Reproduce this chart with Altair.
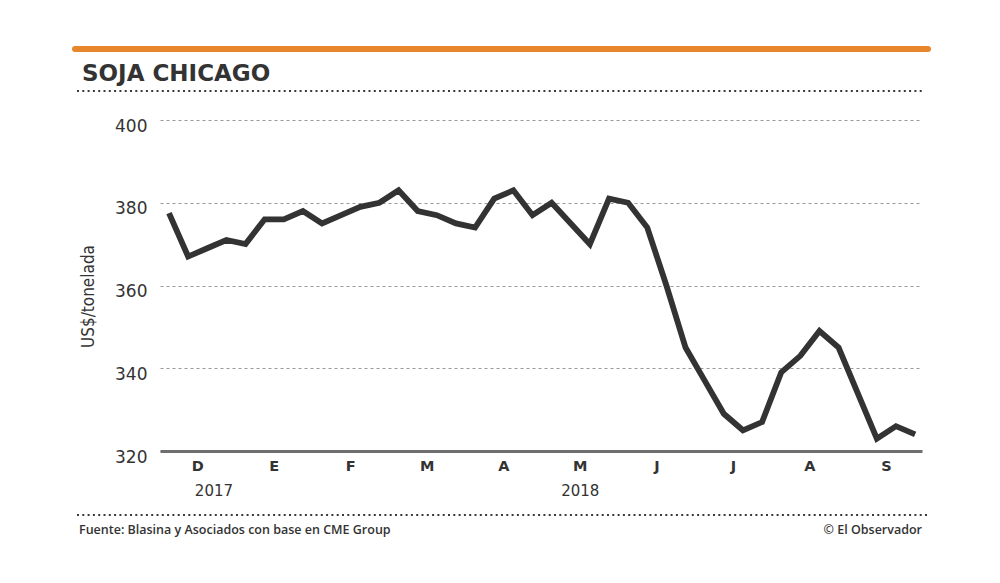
import altair as alt
import pandas as pd

# Weekly soybean price, Chicago (US$/tonelada), Dec 2017 - Sep 2018
prices = [377.5, 367, 369, 371, 370, 376, 376, 378, 375, 377,
          379, 380, 383, 378, 377, 375, 374, 381, 383, 377,
          380, 375, 370, 381, 380, 374, 360, 345, 337, 329,
          325, 327, 339, 343, 349, 345, 334, 323, 326, 324]
weeks = list(range(len(prices)))

months = ["D", "E", "F", "M", "A", "M", "J", "J", "A", "S"]
month_pos = [1.5, 5.5, 9.5, 13.5, 17.5, 21.5, 25.5, 29.5, 33.5, 37.5]
years = ["2017", "2018"]
year_pos = [2.35, 21.5]

title_text = "SOJA CHICAGO"
y_title = "US$/tonelada"
source_text = "Fuente: Blasina y Asociados con base en CME Group"
credit_text = "© El Observador"

df = pd.DataFrame({"week": weeks, "price": prices})
df_m = pd.DataFrame({"pos": month_pos, "label": months})
df_y = pd.DataFrame({"pos": year_pos, "label": years})
one = pd.DataFrame({"a": [0]})

FONT = "Open Sans"
NUMFONT = "DejaVu Sans"
TXT = "#333333"

xscale = alt.Scale(domain=[-0.47, 39.36], nice=False, zero=False)
yscale = alt.Scale(domain=[320, 400], nice=False, zero=False)
xaxis = alt.Axis(labels=False, ticks=False, grid=False, title=None,
                 domain=True, domainColor="#6f6f6f", domainWidth=3)

line = alt.Chart(df).mark_line(
    color="#333333", strokeWidth=5.8, strokeJoin="miter", strokeCap="butt"
).encode(
    x=alt.X("week:Q", scale=xscale, axis=xaxis),
    y=alt.Y("price:Q", scale=yscale,
            axis=alt.Axis(values=[320, 340, 360, 380, 400], domain=False, ticks=False,
                          grid=True, gridColor="#9a9a9a", gridDash=[3, 3], gridWidth=1.2,
                          labelFont=NUMFONT, labelFontSize=17, labelColor=TXT,
                          labelPadding=13, labelBaseline="middle", labelOffset=6,
                          title=y_title,
                          titleFont="Liberation Sans Narrow, DejaVu Sans Condensed, DejaVu Sans, sans-serif",
                          titleFontSize=17, titleFontWeight="normal", titleColor=TXT,
                          titleX=-63, titleY=176, titleAngle=270, titleAlign="center",
                          titleBaseline="bottom")),
)

month_txt = alt.Chart(df_m).mark_text(
    font=NUMFONT, fontSize=14.5, fontWeight="bold", color=TXT, baseline="middle", align="center"
).encode(x=alt.X("pos:Q", scale=xscale, axis=xaxis), y=alt.value(347), text="label:N")

year_txt = alt.Chart(df_y).mark_text(
    font=NUMFONT, fontSize=15, color=TXT, baseline="middle", align="center"
).encode(x=alt.X("pos:Q", scale=xscale, axis=xaxis), y=alt.value(371), text="label:N")

orange = alt.Chart(one).mark_rule(color="#e8862c", strokeWidth=6, strokeCap="round").encode(
    x=alt.value(-85), x2=alt.value(768), y=alt.value(-71))

dots_top = alt.Chart(one).mark_rule(color="#3a3a3a", strokeWidth=2.2, strokeDash=[2, 3.3]).encode(
    x=alt.value(-83), x2=alt.value(762), y=alt.value(-29))

dots_bot = alt.Chart(one).mark_rule(color="#3a3a3a", strokeWidth=2.2, strokeDash=[2, 3.3]).encode(
    x=alt.value(-83), x2=alt.value(770), y=alt.value(395))

title = alt.Chart(one).mark_text(
    text=title_text, font=NUMFONT, fontSize=23, fontWeight="bold", color=TXT,
    align="left", baseline="alphabetic"
).encode(x=alt.value(-78), y=alt.value(-39))

source = alt.Chart(one).mark_text(
    text=source_text, font=FONT, fontSize=12.5, fontWeight=600, color=TXT,
    align="left", baseline="middle"
).encode(x=alt.value(-81), y=alt.value(410))

credit = alt.Chart(one).mark_text(
    text=credit_text, font=FONT, fontSize=12.5, fontWeight=600, color=TXT,
    align="right", baseline="middle"
).encode(x=alt.value(762), y=alt.value(410))

chart = alt.layer(
    line, month_txt, year_txt, orange, dots_top, dots_bot, title, source, credit
).properties(
    width=762, height=331,
    background="white",
    autosize=alt.AutoSizeParams(type="none"),
    padding={"left": 152, "top": 112, "right": 70, "bottom": 124},
).configure_view(strokeWidth=0, stroke="transparent")

chart.save("out.html", embed_options={"renderer": "svg", "actions": False})
